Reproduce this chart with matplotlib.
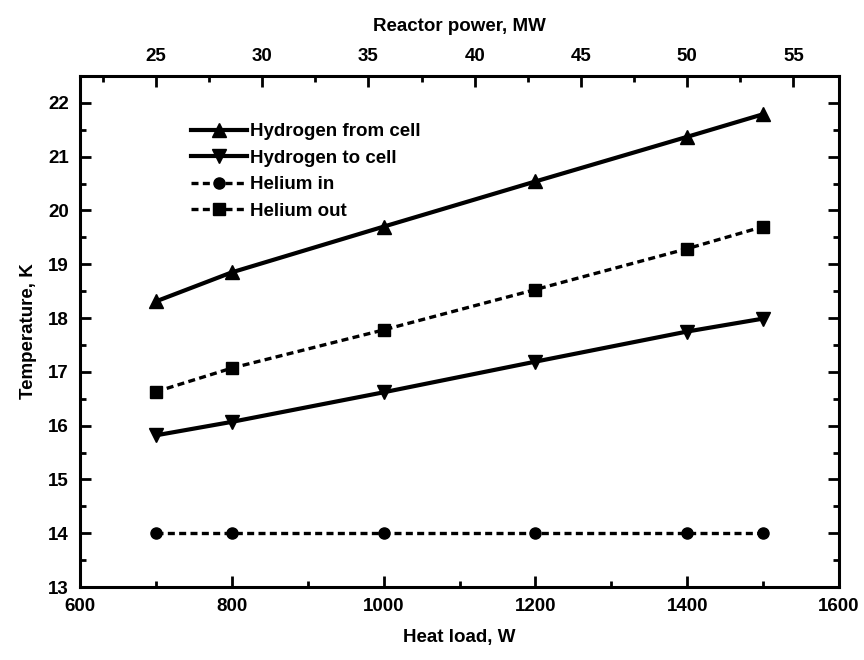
import matplotlib
matplotlib.use("Agg")
import matplotlib.pyplot as plt
from matplotlib.ticker import MultipleLocator

plt.rcParams['font.family'] = ['Liberation Sans', 'DejaVu Sans']
plt.rcParams['font.weight'] = 'bold'

heat_load = [700, 800, 1000, 1200, 1400, 1500]
h2_from_cell = [18.31, 18.85, 19.70, 20.54, 21.37, 21.79]
h2_to_cell = [15.82, 16.07, 16.62, 17.19, 17.75, 17.99]
helium_in = [14.0, 14.0, 14.0, 14.0, 14.0, 14.0]
helium_out = [16.63, 17.07, 17.78, 18.53, 19.29, 19.70]

W_PER_MW = 28.0
FS = 13.5

fig = plt.figure(figsize=(8.64, 6.6), dpi=100)
ax = fig.add_axes([0.0926, 0.1106, 0.8785, 0.7742])

ax.plot(heat_load, h2_from_cell, '-', color='black', lw=3.0, marker='^', ms=10, label='Hydrogen from cell')
ax.plot(heat_load, h2_to_cell, '-', color='black', lw=3.0, marker='v', ms=10, label='Hydrogen to cell')
ax.plot(heat_load, helium_in, '--', color='black', lw=2.4, dashes=(2.1, 1.3), marker='o', ms=8, label='Helium in')
ax.plot(heat_load, helium_out, '--', color='black', lw=2.4, dashes=(2.1, 1.3), marker='s', ms=8, label='Helium out')

ax.set_xlim(600, 1600)
ax.set_ylim(13, 22.5)
ax.xaxis.set_major_locator(MultipleLocator(200))
ax.xaxis.set_minor_locator(MultipleLocator(100))
ax.yaxis.set_minor_locator(MultipleLocator(0.5))
ax.set_yticks(range(13, 23))

ax.tick_params(which='both', direction='in', width=2, labelsize=FS, top=False, right=True, pad=8)
ax.tick_params(which='major', length=8)
ax.tick_params(which='minor', length=4.5)
for s in ax.spines.values():
    s.set_linewidth(2.2)

ax.set_xlabel('Heat load, W', fontsize=FS, labelpad=10, fontweight='bold')
ax.set_ylabel('Temperature, K', fontsize=FS, labelpad=8, fontweight='bold')

sec = ax.secondary_xaxis('top', functions=(lambda w: w / W_PER_MW, lambda p: p * W_PER_MW))
sec.xaxis.set_minor_locator(MultipleLocator(2.5))
sec.set_xticks([25, 30, 35, 40, 45, 50, 55])
sec.tick_params(which='both', direction='in', width=2, labelsize=FS, pad=8)
sec.tick_params(which='major', length=8)
sec.tick_params(which='minor', length=4.5)
sec.set_xlabel('Reactor power, MW', fontsize=FS, labelpad=12, fontweight='bold')

leg = ax.legend(loc='upper left', bbox_to_anchor=(0.1357, 0.9227), frameon=False,
                prop={'size': FS, 'weight': 'bold'},
                handlelength=3.0, handletextpad=0.15, labelspacing=0.5, borderaxespad=0)

fig.savefig('out.png', dpi=100)
